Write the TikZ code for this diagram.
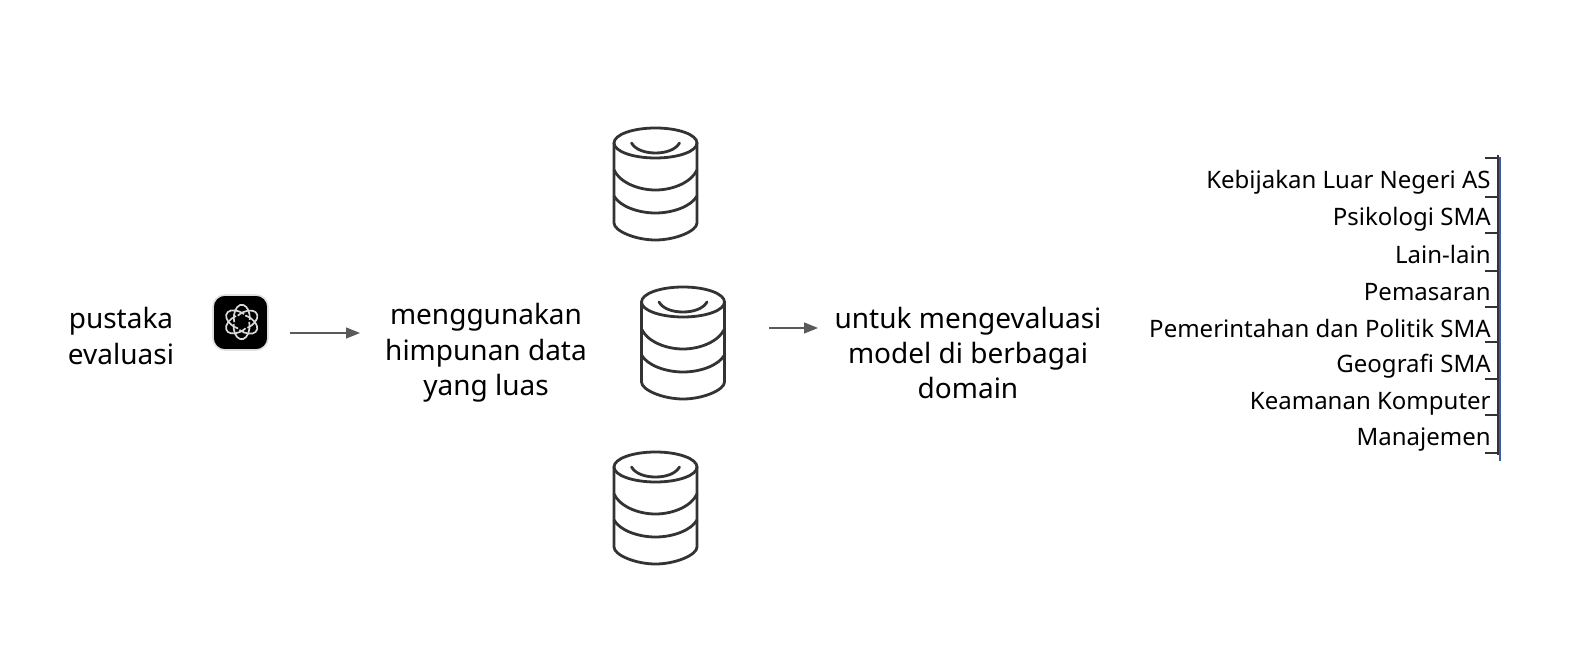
\documentclass[tikz,border=0pt]{standalone}
\usepackage{fontspec}
\setmainfont{Noto Sans}
\usetikzlibrary{arrows.meta}
\definecolor{inkc}{HTML}{333333}
\definecolor{arrowc}{HTML}{5A5A5A}
\definecolor{bracketblue}{HTML}{3F5AA6}
\tikzset{
  x=0.5pt,y=-0.5pt,
  bigtext/.style={font=\fontsize{14}{17.7}\selectfont,align=center,text=black,inner sep=0pt},
  listtext/.style={font=\fontsize{12}{14}\selectfont,anchor=east,text=black,inner sep=0pt},
  flowarrow/.style={draw=arrowc,line width=0.6pt,-{Triangle[length=7pt,width=5.5pt]}},
  cyl/.style={draw=inkc,line width=1.4pt,line cap=round,line join=round},
  tick/.style={draw=inkc,line width=0.9pt},
  knot/.style={draw=white!85!black,line width=0.85pt}
}
\newcommand{\dbcyl}[2]{%
  \begin{scope}[shift={(#1,#2)}]
    \draw[cyl] (0,15) ellipse [x radius=41.5,y radius=15];
    \draw[cyl] (-41.5,15) -- (-41.5,95) .. controls (-41.5,103) and (-20,112) .. (0,112) .. controls (20,112) and (41.5,103) .. (41.5,95) -- (41.5,15);
    \draw[cyl] (-41.5,42) .. controls (-36,54) and (-18,62) .. (0,62) .. controls (18,62) and (36,54) .. (41.5,42);
    \draw[cyl] (-41.5,68) .. controls (-36,78) and (-18,85) .. (0,85) .. controls (18,85) and (36,78) .. (41.5,68);
    \draw[cyl] (-24,15) .. controls (-20,22) and (-10,25) .. (0,25) .. controls (10,25) and (20,22) .. (24,15);
  \end{scope}}
\begin{document}
\begin{tikzpicture}
\useasboundingbox (0,0) rectangle (1584,672);
\fill[white] (0,0) rectangle (1584,672);

\node[bigtext] (lib) at (121,336) {pustaka\\evaluasi};
\node[draw=black!12,line width=0.8pt,fill=black,rounded corners=6pt,minimum size=27.5pt,inner sep=0pt] (logo) at (240.5,322.5) {};
\foreach \a in {0,60,...,300}{
  \draw[knot,shift={(241.7,322)},rotate=\a] (8,-2) arc [start angle=-10,end angle=200,x radius=8,y radius=-13] ;
}
\coordinate (a1s) at (290,333);
\coordinate (a1e) at (360,333);
\draw[flowarrow] (a1s) -- (a1e);
\node[bigtext] (data) at (486,353) {menggunakan\\himpunan data\\yang luas};

\dbcyl{655.5}{128}
\dbcyl{683}{287}
\dbcyl{655.5}{452}

\coordinate (a2s) at (769,328);
\coordinate (a2e) at (818,328);
\draw[flowarrow] (a2s) -- (a2e);
\node[bigtext] (eval) at (968,353) {untuk mengevaluasi\\model di berbagai\\domain};

\node[listtext] (l1) at (1491,182) {Kebijakan Luar Negeri AS};
\node[listtext] (l2) at (1491,219) {Psikologi SMA};
\node[listtext] (l3) at (1491,255) {Lain-lain};
\node[listtext] (l4) at (1491,292) {Pemasaran};
\node[listtext] (l5) at (1491,329) {Pemerintahan dan Politik SMA};
\node[listtext] (l6) at (1491,366) {Geografi SMA};
\node[listtext] (l7) at (1491,404) {Keamanan Komputer};
\node[listtext] (l8) at (1491,440) {Manajemen};

\draw[bracketblue,line width=1.4pt] (1500,157) -- (1500,461);
\draw[inkc,line width=0.6pt] (1498,155) -- (1498,455);
\foreach \y in {158,197,233,271,307,342,379,415,453}{
  \draw[tick] (1485,\y) -- (1498,\y);
}
\end{tikzpicture}
\end{document}
